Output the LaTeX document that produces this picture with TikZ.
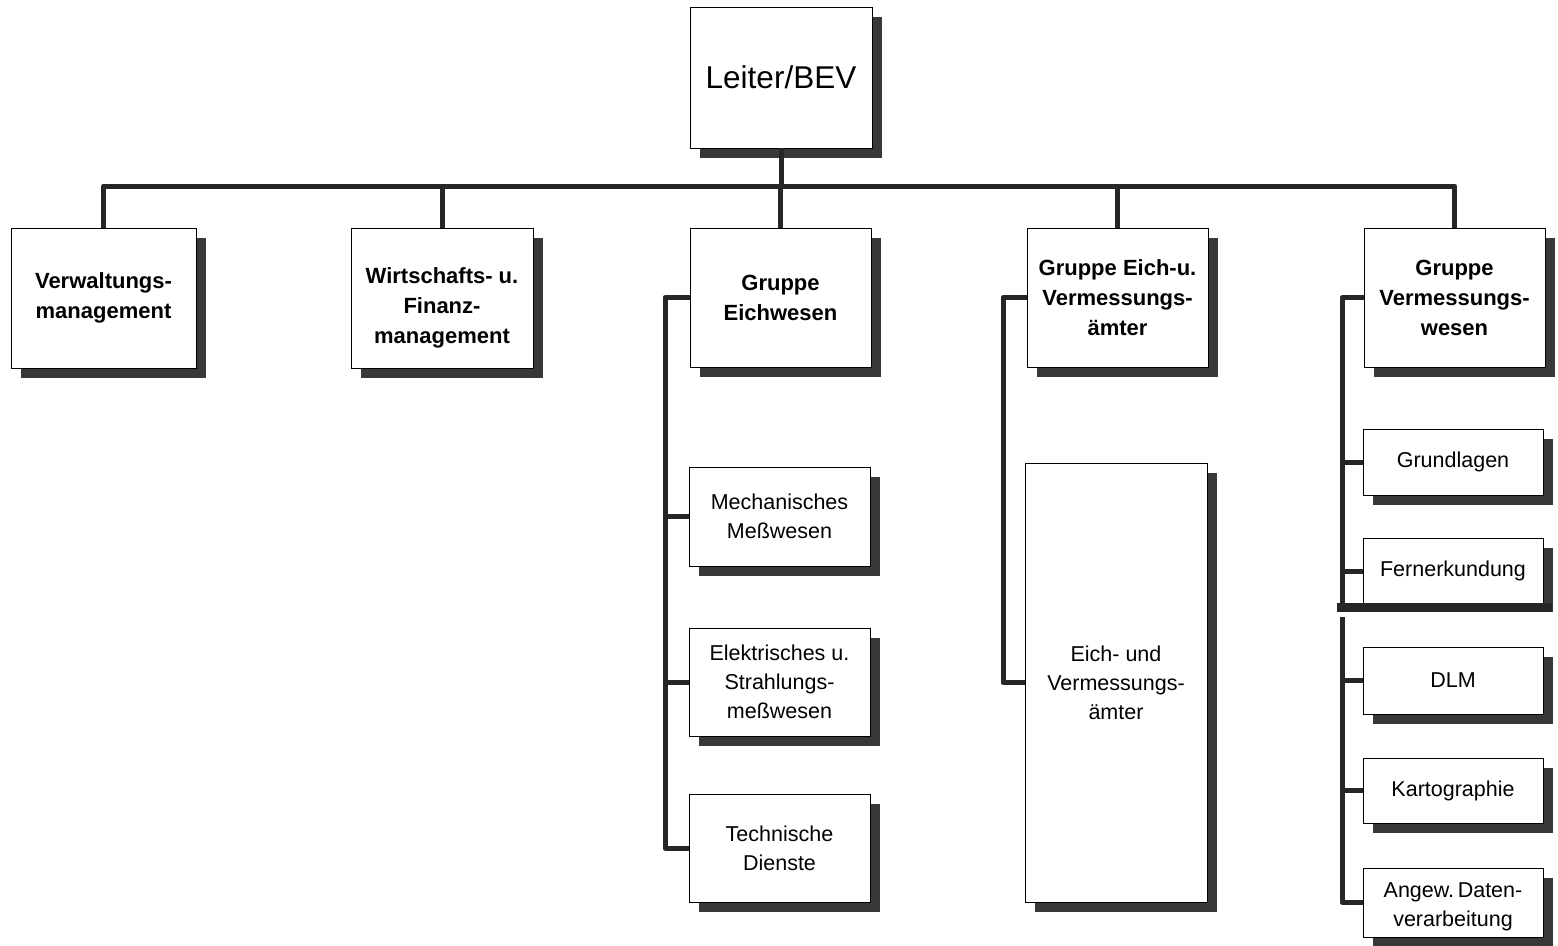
\documentclass[tikz,border=0pt]{standalone}
\usepackage{fontspec}
\setmainfont{Liberation Sans}
\usetikzlibrary{shadows}
\definecolor{shade}{HTML}{383838}
\definecolor{linec}{HTML}{262626}
\tikzset{
  box/.style={draw=black, line width=0.9pt, fill=white, anchor=north west,
    inner sep=0pt, outer sep=0pt, align=center,
    drop shadow={shadow xshift=10pt, shadow yshift=-9.5pt, fill=shade, opacity=1}},
  topfont/.style={font=\fontsize{22}{30}\selectfont\bfseries},
  topbox/.style={box, topfont},
  subbox/.style={box, font=\fontsize{21.5}{29}\selectfont},
  conn/.style={draw=linec, line width=5pt, line join=round},
}
\begin{document}
\begin{tikzpicture}[x=1pt,y=-1pt]
\useasboundingbox (0,0) rectangle (1558,945);
% top
\node[box, minimum width=182pt, minimum height=141pt, font=\fontsize{31.5}{36}\selectfont] (leiter) at (690,7) {Leiter/BEV};
% level 1
\node[topbox, minimum width=185pt, minimum height=140pt] (verw) at (11,228) {Verwaltungs-\\management};
\node[topbox, minimum width=182pt, minimum height=140pt,
  label={[topfont, align=center, yshift=-10pt]center:Wirtschafts- u.\\Finanz-\\management}] (wirt) at (351,228) {};
\node[topbox, minimum width=181pt, minimum height=139pt] (gew) at (690,228) {Gruppe\\Eichwesen};
\node[topbox, minimum width=181pt, minimum height=139pt] (gev) at (1027,228) {Gruppe Eich-u.\\Vermessungs-\\ämter};
\node[topbox, minimum width=181pt, minimum height=139pt] (gvw) at (1364,228) {Gruppe\\Vermessungs-\\wesen};
% Eichwesen sub
\node[subbox, minimum width=181pt, minimum height=99pt] (mech) at (689,467) {Mechanisches\\Meßwesen};
\node[subbox, minimum width=181pt, minimum height=108pt] (elek) at (689,628) {Elektrisches u.\\Strahlungs-\\meßwesen};
\node[subbox, minimum width=181pt, minimum height=108pt] (tech) at (689,794) {Technische\\Dienste};
% Eich- und Vermessungsaemter
\node[subbox, minimum width=182pt, minimum height=439pt] (eva) at (1025,463) {Eich- und\\Vermessungs-\\ämter};
% Vermessungswesen sub
\node[subbox, minimum width=180pt, minimum height=66pt] (grund) at (1363,429) {Grundlagen};
\node[subbox, minimum width=180pt, minimum height=66pt] (fern) at (1363,538) {Fernerkundung};
\node[subbox, minimum width=180pt, minimum height=67pt] (dlm) at (1363,647) {DLM};
\node[subbox, minimum width=180pt, minimum height=65pt] (kart) at (1363,758) {Kartographie};
\node[subbox, minimum width=180pt, minimum height=69pt,
  label={[font=\fontsize{21.5}{29}\selectfont, align=center, yshift=-4pt]center:Angew.\,Daten-\\verarbeitung}] (angew) at (1363,868) {};
% bus
\coordinate (bus) at (0,186);
\draw[conn] (leiter.south) -- (leiter.south |- bus);
\draw[conn] (verw.north) -- (verw.north |- bus) -- (gvw.north |- bus) -- (gvw.north);
\draw[conn] (wirt.north) -- (wirt.north |- bus);
\draw[conn] (gew.north) -- (gew.north |- bus);
\draw[conn] (gev.north) -- (gev.north |- bus);
% Eichwesen spine
\coordinate (spE) at (665,0);
\draw[conn] (gew.west) -- (gew.west -| spE) -- (spE |- tech.west) -- (tech.west);
\draw[conn] (mech.west) -- (mech.west -| spE);
\draw[conn] (elek.west) -- (elek.west -| spE);
% GEV spine
\coordinate (spV) at (1003,0);
\draw[conn] (gev.west) -- (gev.west -| spV) -- (spV |- eva.west) -- (eva.west);
% GVW spine
\coordinate (spW) at (1342,0);
\draw[conn] (gvw.west) -- (gvw.west -| spW) -- (spW |- angew.west) -- (angew.west);
\draw[conn] (grund.west) -- (grund.west -| spW);
\draw[conn] (fern.west) -- (fern.west -| spW);
\draw[conn] (dlm.west) -- (dlm.west -| spW);
\draw[conn] (kart.west) -- (kart.west -| spW);
% fold bar
\coordinate (barA) at (1337,603);
\coordinate (barB) at (1552,612);
\coordinate (gapA) at (1337,612);
\coordinate (gapB) at (1558,617);
\fill[linec] (barA) rectangle (barB);
\fill[white] (gapA) rectangle (gapB);
\end{tikzpicture}
\end{document}
